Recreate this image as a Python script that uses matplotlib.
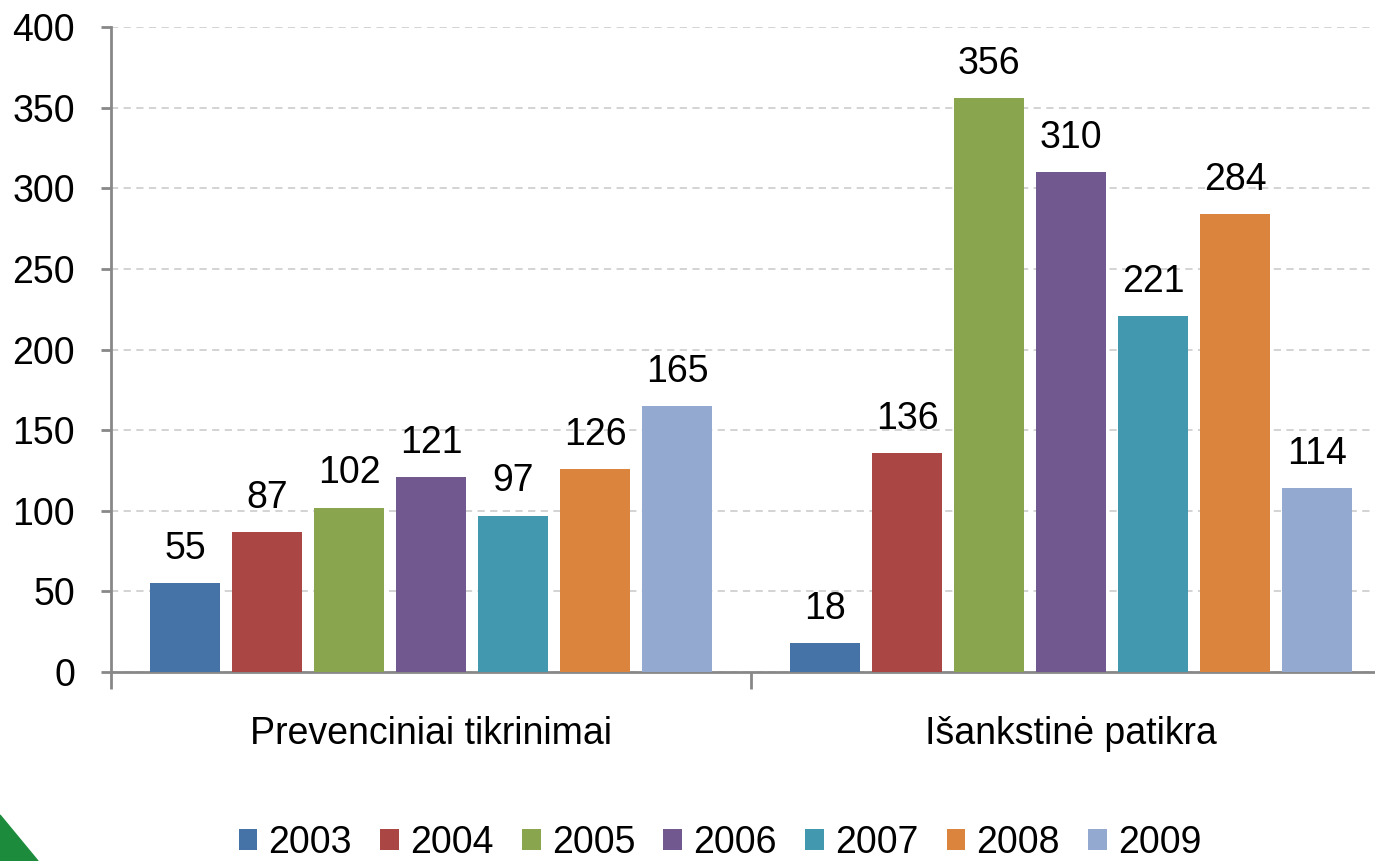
import numpy as np
import matplotlib.pyplot as plt
from matplotlib.patches import Polygon

plt.rcParams['font.family'] = ['Liberation Sans', 'DejaVu Sans']

categories = ['Prevenciniai tikrinimai', 'Išankstinė patikra']
years = ['2003', '2004', '2005', '2006', '2007', '2008', '2009']
values = [
    [55, 18],
    [87, 136],
    [102, 356],
    [121, 310],
    [97, 221],
    [126, 284],
    [165, 114],
]
colors = ['#4573a7', '#aa4643', '#89a54e', '#71588f', '#4198af', '#db843d', '#93a9cf']

W, H = 1375, 861
fig = plt.figure(figsize=(W / 100, H / 100), dpi=100)
# axes extends a bit past the right edge, like the original slide crop
ax = fig.add_axes([111 / W, 1 - 672 / H, 1280 / W, 645 / H])

x = np.arange(len(categories))
pitch = 82 / 640
width = 70 / 640
for i, (yr, vals) in enumerate(zip(years, values)):
    pos = x + (i - 3) * pitch
    bars = ax.bar(pos, vals, width, color=colors[i], label=yr, zorder=3)
    for b, v in zip(bars, vals):
        ax.text(b.get_x() + b.get_width() / 2, v + 10, str(v),
                ha='center', va='bottom', fontsize=27, color='black')

ax.set_xlim(-0.5, 1.5)
ax.set_ylim(0, 400)
ax.set_yticks(range(0, 401, 50))
ax.yaxis.grid(True, linestyle=(0, (4, 3)), color='#d0d0d0', linewidth=1.3, zorder=0)
ax.tick_params(axis='y', labelsize=27, length=7, width=2, color='#888888', pad=19)

ax.set_xticks([-0.5, 0.5, 1.5])
ax.set_xticklabels([])
ax.tick_params(axis='x', length=12, width=2, color='#888888')
for xi, cat in zip(x, categories):
    ax.text(xi, -27, cat, ha='center', va='top', fontsize=27, transform=ax.transData)

for s in ['top', 'right']:
    ax.spines[s].set_visible(False)
for s in ['left', 'bottom']:
    ax.spines[s].set_color('#888888')
    ax.spines[s].set_linewidth(2)

leg = fig.legend(loc='center', bbox_to_anchor=(720 / W, 1 - 843 / H), ncol=7,
                 frameon=False, fontsize=27, handlelength=0.5, handleheight=0.5,
                 handletextpad=0.3, columnspacing=0.75, borderpad=0.1)

# green corner decoration from the slide
tri = Polygon([(0, 1 - 815 / H), (38 / W, 0), (0, 0)], closed=True,
              transform=fig.transFigure, color='#1c8c3c', zorder=10)
fig.patches.append(tri)

fig.savefig('out.png', dpi=100)
